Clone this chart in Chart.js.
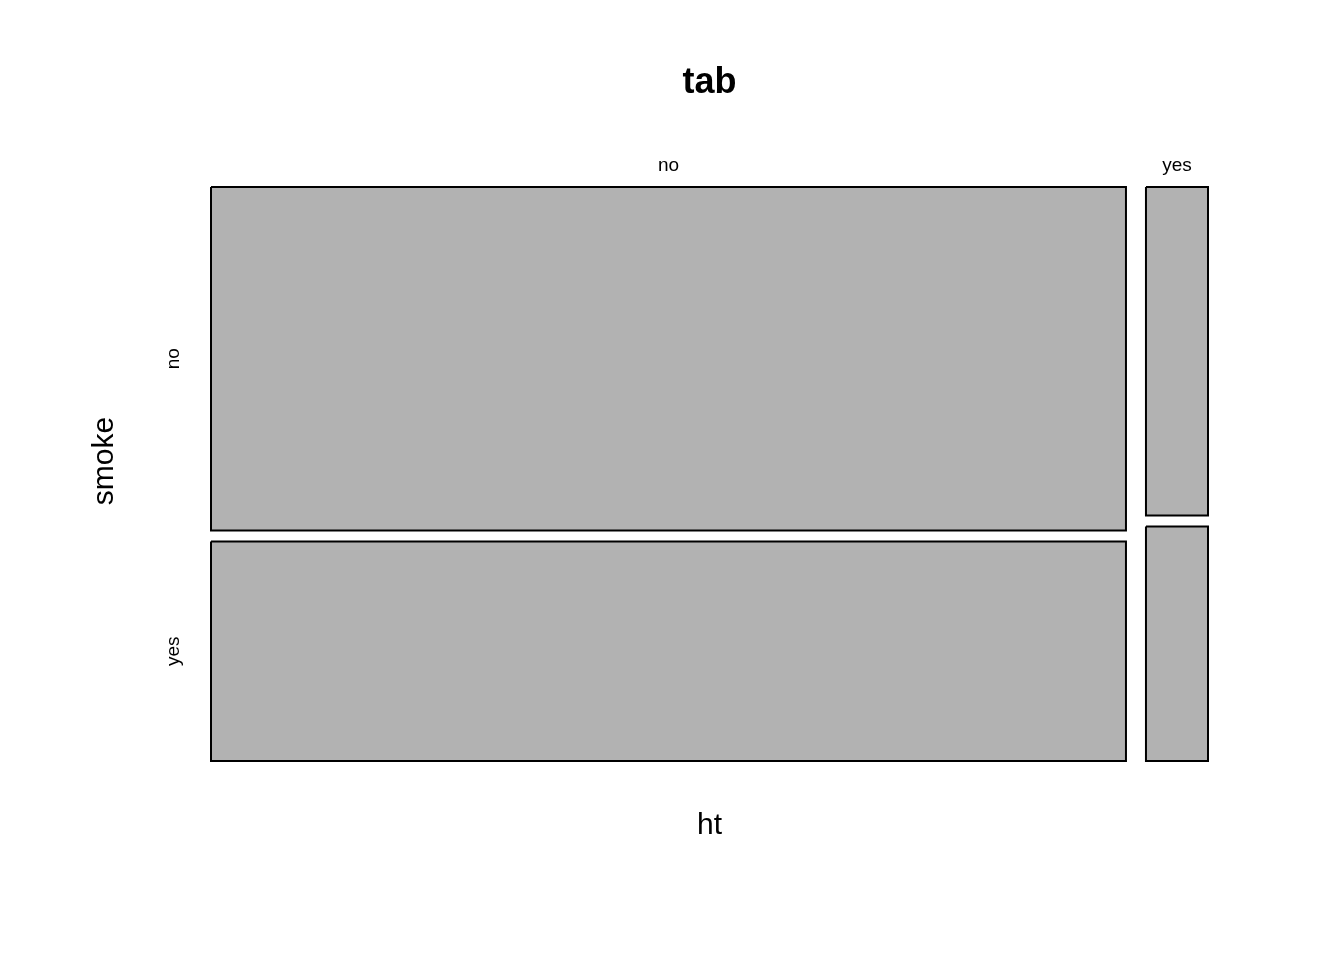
<!DOCTYPE html>
<html>
<head>
<meta charset="utf-8">
<script src="https://cdn.jsdelivr.net/npm/chart.js@4.4.1/dist/chart.umd.min.js"></script>
<style>
html,body{margin:0;padding:0;background:#fff;}
canvas{display:block;}
</style>
</head>
<body>
<canvas id="c" width="1344" height="960"></canvas>
<script>
// Data: birthwt table ht x smoke
const htLevels = ['no', 'yes'];
const smokeLevels = ['no', 'yes'];
const countsHtNo = [108, 69];   // smoke = no, yes
const countsHtYes = [7, 5];     // smoke = no, yes
const chartTitle = 'tab';
const xTitle = 'ht';
const yTitle = 'smoke';

const table = [countsHtNo, countsHtYes];
const gapX = 20 / 997;
const gapY = 11 / 574;
const total = table.reduce((s, r) => s + r.reduce((a, b) => a + b, 0), 0);

const datasets = [];
const colCenters = [];
const rowCentersFirst = [];
let x0 = 0;
table.forEach((col, i) => {
  const nCol = col.reduce((a, b) => a + b, 0);
  const w = (1 - gapX * (table.length - 1)) * nCol / total;
  const x1 = x0 + w;
  colCenters.push((x0 + x1) / 2);
  let y0 = 0;
  col.forEach((n, j) => {
    const h = (1 - gapY * (col.length - 1)) * n / nCol;
    const y1 = y0 + h;
    if (i === 0) rowCentersFirst.push((y0 + y1) / 2);
    datasets.push({
      label: htLevels[i] + ':' + smokeLevels[j],
      data: [{x: x0, y: y0}, {x: x1, y: y0}, {x: x1, y: y1}, {x: x0, y: y1}, {x: x0, y: y0}],
      showLine: true,
      fill: 'shape',
      backgroundColor: 'rgb(178,178,178)',
      borderColor: '#000',
      borderWidth: 2,
      pointRadius: 0,
      tension: 0,
      clip: false
    });
    y0 = y1 + gapY;
  });
  x0 = x1 + gapX;
});

const FONT = '"Liberation Sans", Arial, sans-serif';
const labelPlugin = {
  id: 'mosaicLabels',
  afterDraw(chart) {
    const ctx = chart.ctx;
    const xs = chart.scales.x, ys = chart.scales.y;
    const ca = chart.chartArea;
    const cx = (ca.left + ca.right) / 2;
    ctx.save();
    ctx.fillStyle = '#000';
    ctx.textAlign = 'center';
    ctx.textBaseline = 'alphabetic';
    // title
    ctx.font = 'bold 36px ' + FONT;
    ctx.fillText(chartTitle, cx, 93);
    // column labels
    ctx.font = '19px ' + FONT;
    htLevels.forEach((lab, i) => {
      ctx.fillText(lab, xs.getPixelForValue(colCenters[i]), 171);
    });
    // row labels
    smokeLevels.forEach((lab, j) => {
      ctx.save();
      ctx.translate(179, ys.getPixelForValue(rowCentersFirst[j]));
      ctx.rotate(-Math.PI / 2);
      ctx.fillText(lab, 0, 0);
      ctx.restore();
    });
    // axis titles
    ctx.font = '30px ' + FONT;
    ctx.fillText(xTitle, cx, 834);
    ctx.save();
    ctx.translate(113, 461);
    ctx.rotate(-Math.PI / 2);
    ctx.fillText(yTitle, 0, 0);
    ctx.restore();
    ctx.restore();
  }
};

new Chart(document.getElementById('c'), {
  type: 'scatter',
  data: { datasets },
  options: {
    responsive: false,
    animation: false,
    devicePixelRatio: 1,
    layout: { padding: { left: 211, right: 136, top: 187, bottom: 199 } },
    scales: {
      x: { type: 'linear', min: 0, max: 1, display: false },
      y: { type: 'linear', min: 0, max: 1, reverse: true, display: false }
    },
    plugins: {
      legend: { display: false },
      tooltip: { enabled: false },
      title: { display: false }
    }
  },
  plugins: [labelPlugin]
});
</script>
</body>
</html>
